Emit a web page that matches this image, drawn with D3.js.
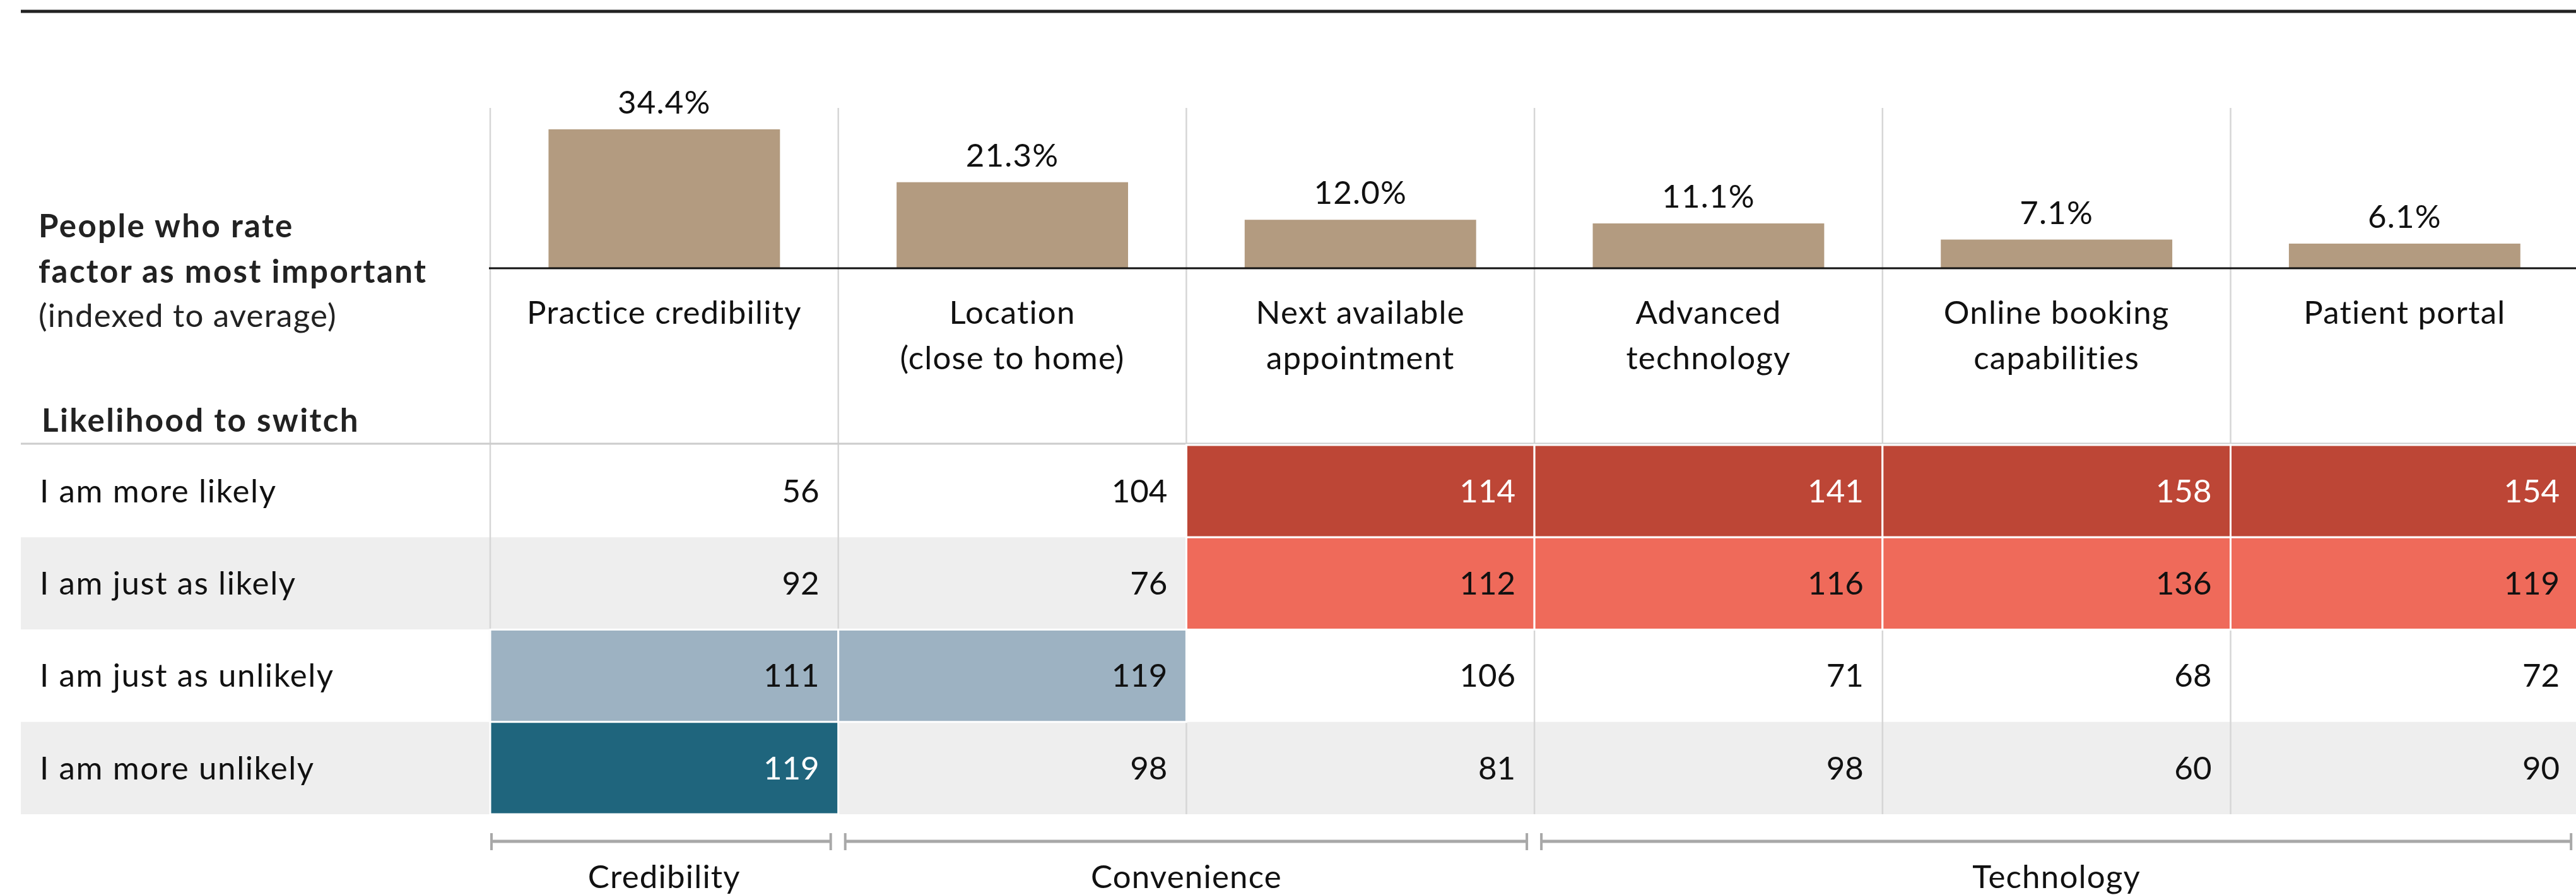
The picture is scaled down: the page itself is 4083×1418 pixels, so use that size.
<!DOCTYPE html>
<html>
<head>
<meta charset="utf-8">
<script src="https://cdn.jsdelivr.net/npm/d3@7"></script>
<style>
	body { margin: 0; background: #fff; }
	svg { display: block; font-family: Lato, "Liberation Sans", sans-serif; }
</style>
</head>
<body>
<svg id="chart-1" width="4083" height="1418"></svg>
<script>
// Factors (columns) and the share who rate each one most important
const factors = ['Practice credibility', 'Location (close to home)', 'Next available appointment',
	'Advanced technology', 'Online booking capabilities', 'Patient portal'];
const factorLines = [
	['Practice credibility'],
	['Location', '(close to home)'],
	['Next available', 'appointment'],
	['Advanced', 'technology'],
	['Online booking', 'capabilities'],
	['Patient portal']
];
const mostImportant = [34.4, 21.3, 12.0, 11.1, 7.1, 6.1];

// Rows: likelihood to switch, index values per factor
const likelihood = ['I am more likely', 'I am just as likely', 'I am just as unlikely', 'I am more unlikely'];
const indexValues = [
	[56, 104, 114, 141, 158, 154],
	[92, 76, 112, 116, 136, 119],
	[111, 119, 106, 71, 68, 72],
	[119, 98, 81, 98, 60, 90]
];
const highlightAt = 110;
const rowColors = ['#bd4636', '#ef6a5a', '#9db2c2', '#1f657d'];
const rowTextColors = ['#fff', '#111', '#111', '#fff'];

// Groups of factors
const groups = ['Credibility', 'Convenience', 'Technology'];
const groupSpans = [[0, 0], [1, 2], [3, 5]];

const svg = d3.select('svg#chart-1');
const FS = 51;
const LS = 1.2;   // letter spacing, regular text

const x = d3.scaleBand()
	.domain(factors)
	.range([777, 777 + 6 * 551.7]);
const y = d3.scaleLinear()
	.domain([0, 10])
	.range([425, 425 - 64]);
const rows = d3.scaleBand()
	.domain(likelihood)
	.range([705, 1290]);

const bw = x.bandwidth();

// top rule
svg.append('line')
	.attr('x1', 33).attr('x2', 4083)
	.attr('y1', 18).attr('y2', 18)
	.attr('stroke', '#222').attr('stroke-width', 5);

// zebra rows
svg.selectAll('rect.band').data(likelihood)
	.enter().append('rect')
		.attr('class', 'band')
		.attr('x', 33)
		.attr('y', d => rows(d))
		.attr('width', 4083 - 33)
		.attr('height', rows.bandwidth())
		.attr('fill', (d, i) => i % 2 ? '#eeeeee' : '#fff');

// vertical grid
svg.selectAll('line.grid').data(factors)
	.enter().append('line')
		.attr('class', 'grid')
		.attr('x1', d => x(d)).attr('x2', d => x(d))
		.attr('y1', 171).attr('y2', 1290)
		.attr('stroke', '#d6d6d6').attr('stroke-width', 2.5);

// header separator
svg.append('line')
	.attr('x1', 33).attr('x2', 4083)
	.attr('y1', 703).attr('y2', 703)
	.attr('stroke', '#cccccc').attr('stroke-width', 3);

// bars
svg.selectAll('rect.bar').data(mostImportant)
	.enter().append('rect')
		.attr('class', 'bar')
		.attr('x', (d, i) => x(factors[i]) + bw * 0.1675)
		.attr('y', d => y(d))
		.attr('width', bw * 0.665)
		.attr('height', d => y(0) - y(d))
		.attr('fill', '#b39b80');

svg.selectAll('text.barlabel').data(mostImportant)
	.enter().append('text')
		.attr('class', 'barlabel')
		.attr('x', (d, i) => x(factors[i]) + bw / 2)
		.attr('y', d => y(d) - 25)
		.attr('text-anchor', 'middle')
		.attr('font-size', FS)
		.attr('letter-spacing', LS)
		.attr('fill', '#111')
		.text(d => d.toFixed(1) + '%');

// baseline
svg.append('line')
	.attr('x1', 775).attr('x2', 4083)
	.attr('y1', y(0)).attr('y2', y(0))
	.attr('stroke', '#111').attr('stroke-width', 3);

// column headers
const colHead = svg.selectAll('text.colhead').data(factorLines)
	.enter().append('text')
		.attr('class', 'colhead')
		.attr('x', (d, i) => x(factors[i]) + bw / 2)
		.attr('y', 513)
		.attr('text-anchor', 'middle')
		.attr('font-size', FS)
		.attr('letter-spacing', LS)
		.attr('fill', '#111');
colHead.selectAll('tspan').data(d => d)
	.enter().append('tspan')
		.attr('x', function() { return this.parentNode.getAttribute('x'); })
		.attr('dy', (d, i) => i ? 72 : 0)
		.text(d => d);

// left header
const leftHead = [
	{t: 'People who rate', y: 376, w: 'bold'},
	{t: 'factor as most important', y: 448, w: 'bold'},
	{t: '(indexed to average)', y: 518, w: 'normal'},
	{t: 'Likelihood to switch', y: 684, w: 'bold'}
];
svg.selectAll('text.lefthead').data(leftHead)
	.enter().append('text')
		.attr('class', 'lefthead')
		.attr('x', (d, i) => i === 3 ? 66 : 61)
		.attr('y', d => d.y)
		.attr('font-size', FS)
		.attr('font-weight', d => d.w)
		.attr('letter-spacing', d => d.w === 'bold' ? 2.4 : LS)
		.attr('fill', '#222')
		.text(d => d.t);

// row labels
svg.selectAll('text.rowlabel').data(likelihood)
	.enter().append('text')
		.attr('class', 'rowlabel')
		.attr('x', 63)
		.attr('y', d => rows(d) + rows.bandwidth() / 2)
		.attr('dy', '0.35em')
		.attr('font-size', FS)
		.attr('letter-spacing', 1.6)
		.attr('fill', '#111')
		.text(d => d);

// cells
const cells = [];
indexValues.forEach((r, ri) => r.forEach((v, ci) => cells.push({ri, ci, v})));

svg.selectAll('rect.cell').data(cells.filter(d => d.v >= highlightAt))
	.enter().append('rect')
		.attr('class', 'cell')
		.attr('x', d => x(factors[d.ci]))
		.attr('y', d => rows(likelihood[d.ri]))
		.attr('width', bw)
		.attr('height', rows.bandwidth())
		.attr('fill', d => rowColors[d.ri])
		.attr('stroke', '#fff')
		.attr('stroke-width', 3);

svg.selectAll('text.cellval').data(cells)
	.enter().append('text')
		.attr('class', 'cellval')
		.attr('x', d => x(factors[d.ci]) + bw - 30)
		.attr('y', d => rows(likelihood[d.ri]) + rows.bandwidth() / 2)
		.attr('dy', '0.35em')
		.attr('text-anchor', 'end')
		.attr('font-size', FS)
		.attr('fill', d => d.v >= highlightAt ? rowTextColors[d.ri] : '#111')
		.text(d => d.v);

// group brackets
const gb = svg.selectAll('g.group').data(groups)
	.enter().append('g')
		.attr('class', 'group');
const gx0 = (d, i) => x(factors[groupSpans[i][0]]) + (i ? 11 : 2);
const gx1 = (d, i) => x(factors[groupSpans[i][1]]) + bw - 12;
gb.append('line')
	.attr('x1', gx0).attr('x2', gx1)
	.attr('y1', 1333).attr('y2', 1333)
	.attr('stroke', '#a8a8a8').attr('stroke-width', 5);
gb.append('line')
	.attr('x1', gx0).attr('x2', gx0)
	.attr('y1', 1320).attr('y2', 1347)
	.attr('stroke', '#a8a8a8').attr('stroke-width', 4);
gb.append('line')
	.attr('x1', gx1).attr('x2', gx1)
	.attr('y1', 1320).attr('y2', 1347)
	.attr('stroke', '#a8a8a8').attr('stroke-width', 4);
gb.append('text')
	.attr('x', (d, i) => (x(factors[groupSpans[i][0]]) + x(factors[groupSpans[i][1]]) + bw) / 2)
	.attr('y', 1407)
	.attr('text-anchor', 'middle')
	.attr('font-size', FS)
	.attr('letter-spacing', LS)
	.attr('fill', '#111')
	.text(d => d);
</script>
</body>
</html>
